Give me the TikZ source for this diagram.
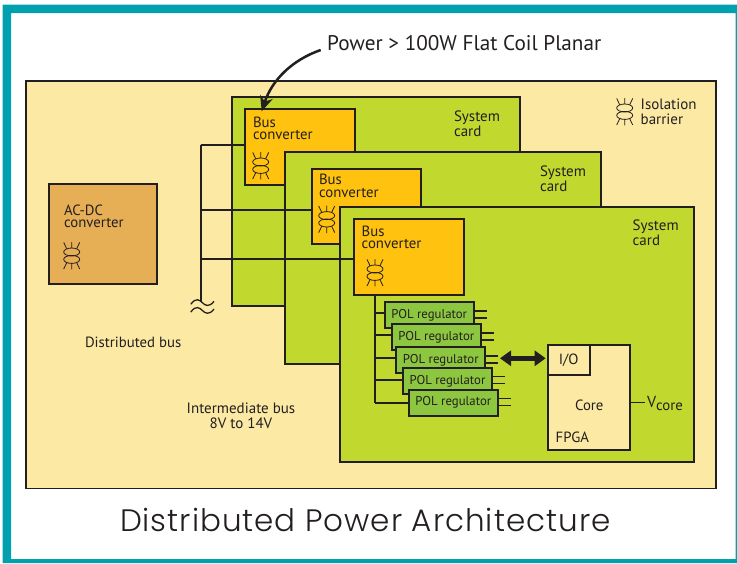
\documentclass[tikz,border=0pt]{standalone}
\usepackage{fontspec}
\setmainfont{PT Sans}
\newfontfamily\titlefont[LetterSpace=3.2]{Poppins Light}
\usetikzlibrary{arrows.meta,calc}
\definecolor{ink}{HTML}{231F20}
\definecolor{teal}{HTML}{00A0AF}
\definecolor{paleyellow}{HTML}{FCE9A4}
\definecolor{cardgreen}{HTML}{C1D82F}
\definecolor{busorange}{HTML}{FFC20E}
\definecolor{acorange}{HTML}{E6AE55}
\definecolor{polgreen}{HTML}{8DC63F}
\tikzset{
  boxbase/.style={draw=ink,line width=1.7pt,inner sep=0pt,outer sep=0pt},
  panel/.style={boxbase,fill=paleyellow},
  card/.style={boxbase,fill=cardgreen},
  busbox/.style={boxbase,fill=busorange},
  acbox/.style={boxbase,fill=acorange},
  polbox/.style={boxbase,fill=polgreen,text=ink,font=\fontsize{12.8}{14}\selectfont},
  fpgabox/.style={boxbase,fill=paleyellow},
  wire/.style={draw=ink,line width=1.8pt},
  thinwire/.style={draw=ink,line width=1.1pt},
  lbl/.style={text=ink,inner sep=0pt,outer sep=0pt,anchor=west,align=left,font=\fontsize{14.8}{12.4}\selectfont},
  lblwide/.style={lbl,font=\fontsize{15}{15}\selectfont},
  iso/.pic={
    \draw[ink,line width=0.8pt] (0,-3.7) ellipse (8 and 4);
    \draw[ink,line width=0.8pt] (0,3.7) ellipse (8 and 4);
    \draw[ink,line width=0.8pt] (0,-7.7)--(0,-13.7) (-5,-7)--(-8,-13.3) (5,-7)--(8,-13.3);
    \draw[ink,line width=0.8pt] (0,7.7)--(0,13.7) (-5,7)--(-8,13.3) (5,7)--(8,13.3);
  }
}
\newcommand{\pxbox}[7]{%
  \pgfmathsetmacro\boxw{#5-#3}\pgfmathsetmacro\boxh{#6-#4}%
  \node[#2,minimum width=\boxw pt,minimum height=\boxh pt] (#1) at ({(#3+#5)/2},{(#4+#6)/2}) {#7};}
\begin{document}
\begin{tikzpicture}[x=1pt,y=-1pt]
\useasboundingbox (0,0) rectangle (737,563);
\fill[white] (0,0) rectangle (737,563);
\fill[teal,even odd rule] (2.5,4.5) rectangle (737,563) (11,13) rectangle (735.6,559);
\pxbox{panel}{panel}{26}{81}{716}{488.5}{}
\pxbox{card1}{card}{232}{97}{520}{306}{}
\pxbox{bus1}{busbox}{245}{109.3}{354.7}{185}{}
\pxbox{card2}{card}{285.3}{152.3}{601}{364}{}
\pxbox{bus2}{busbox}{311.7}{169}{421}{244.3}{}
\pxbox{card3}{card}{340}{207.3}{694}{462.3}{}
\pxbox{bus3}{busbox}{354}{218.7}{463.7}{294.7}{}
\pxbox{ac}{acbox}{49.3}{183.7}{157}{283.7}{}
% distributed bus
\coordinate (tap1) at (200.7,144.7);
\coordinate (tap2) at (200.7,209.7);
\coordinate (tap3) at (200.7,258.7);
\coordinate (busend) at (200.7,301.7);
\draw[wire] (tap1) -- (busend);
\draw[wire] (tap1) -- (tap1 -| bus1.west);
\draw[wire] (tap2) -- (tap2 -| bus2.west);
\draw[wire] (tap3) -- (tap3 -| bus3.west);
\foreach \wy in {302.8,310.6}
  \draw[ink,line width=1.3pt] (190.8,\wy+1.5) .. controls (196,\wy-6) and (200,\wy-2.5) .. (202.5,\wy) .. controls (205,\wy+2.5) and (209,\wy+5) .. (214,\wy-1.5);
% POL trunk
\coordinate (poltop) at (374.7,294.7);
\coordinate (b1) at (374.7,313.3);
\coordinate (b2) at (374.7,335.3);
\coordinate (b3) at (374.7,357.7);
\coordinate (b4) at (374.7,380);
\coordinate (b5) at (374.7,402.7);
\draw[wire] (poltop) -- (b5);
\pxbox{p1}{polbox}{384.7}{302}{473.7}{328}{POL regulator}
\pxbox{p2}{polbox}{391.7}{324.3}{481}{350.3}{POL regulator}
\pxbox{p3}{polbox}{396.3}{347}{485.3}{373.3}{POL regulator}
\pxbox{p4}{polbox}{403}{367.7}{492}{394}{POL regulator}
\pxbox{p5}{polbox}{408.7}{389.7}{498}{415.7}{POL regulator}
\foreach \i in {1,...,5} {
  \draw[wire] (b\i) -- (b\i -| p\i.west);
  \draw[wire] ([yshift=4.3pt]p\i.east) -- ++(13,0);
  \draw[wire] ([yshift=-2.7pt]p\i.east) -- ++(13,0);
}
% FPGA
\pxbox{fpga}{fpgabox}{548.3}{344.7}{629.7}{450.3}{}
\pxbox{io}{fpgabox}{548.3}{344.7}{590.3}{374.7}{}
\coordinate (arrowstart) at (500,358.3);
\draw[draw=ink,line width=4.5pt,{Triangle[width=15pt,length=11pt]}-{Triangle[width=15pt,length=11pt]},shorten >=2.6pt] (arrowstart) -- (arrowstart -| io.west);
\coordinate (vtap) at (645,402.7);
\draw[thinwire] (vtap -| fpga.east) -- (vtap);
\node[lbl,anchor=center] (iotext) at (568.7,360.7) {I/O};
\node[lbl,anchor=center] (coretext) at (589.3,405) {Core};
\node[lbl] (fpgatext) at (555.7,437) {FPGA};
\node[lbl] (vcoretext) at (647,403.5) {\fontsize{16}{12}\selectfont V\lower2.5pt\hbox{\fontsize{14.8}{12}\selectfont core}};
% isolation symbols
\pic at (71.7,255.7) {iso};
\pic at (260.7,165.7) {iso};
\pic at (326.7,219.3) {iso};
\pic at (375,272.7) {iso};
\pic at (624.7,111.7) {iso};
% labels
\node[lbl] (ls1) at (253,128.5) {Bus\\converter};
\node[lbl] (ls2) at (319,185.8) {Bus\\converter};
\node[lbl] (ls3) at (361.7,237.4) {Bus\\converter};
\node[lbl] (lac) at (64,216.2) {AC-DC\\converter};
\node[lblwide] (cardt1) at (454,124.2) {System\\card};
\node[lblwide] (cardt2) at (540,179.2) {System\\card};
\node[lblwide] (cardt3) at (632.7,232.9) {System\\card};
\node[lblwide] (isot) at (640.7,112.2) {Isolation\\barrier};
\node[lbl] (distt) at (85,342.7) {Distributed bus};
\node[lblwide,anchor=center,align=center] (intt) at (241,415.5) {Intermediate bus\\8V to 14V};
\node[text=ink,inner sep=0pt,anchor=west,font=\fontsize{21.2}{22}\selectfont] (powert) at (327,43) {Power > 100W Flat Coil Planar};
\coordinate (arrowfrom) at (320.7,50);
\draw[draw=ink,line width=2.5pt,-{Stealth[width=13pt,length=15pt]}] (arrowfrom) .. controls (292,60) and (272,80) .. ($(bus1.north west)+(16.7,2)$);
\node[text=ink,inner sep=0pt,outer sep=0pt,anchor=west,font=\titlefont\fontsize{31}{34}\selectfont] (titlet) at (120,520) {Distributed Power Architecture};
\end{tikzpicture}
\end{document}
